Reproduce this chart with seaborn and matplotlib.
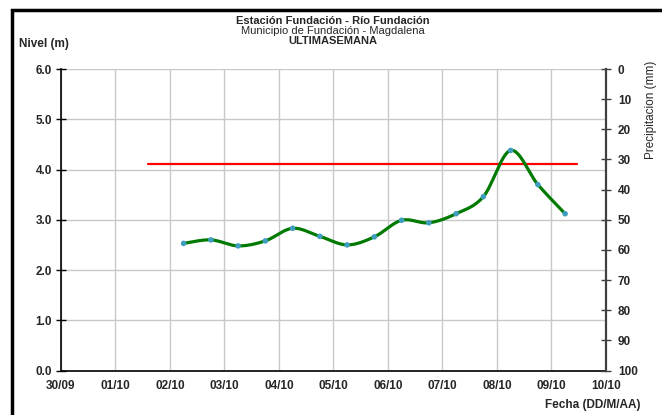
import pandas as pd
import numpy as np
import matplotlib
matplotlib.use("Agg")
import matplotlib.pyplot as plt
import matplotlib.dates as mdates
from matplotlib.patches import Rectangle
import seaborn as sns

# datos
times = ['2023-10-02 06:00', '2023-10-02 18:00', '2023-10-03 06:00', '2023-10-03 18:00',
         '2023-10-04 06:00', '2023-10-04 18:00', '2023-10-05 06:00', '2023-10-05 18:00',
         '2023-10-06 06:00', '2023-10-06 18:00', '2023-10-07 06:00', '2023-10-07 18:00',
         '2023-10-08 06:00', '2023-10-08 18:00', '2023-10-09 06:00']
nivel = [2.53, 2.60, 2.48, 2.58, 2.83, 2.67, 2.50, 2.66, 2.99, 2.94, 3.12, 3.46, 4.38, 3.70, 3.12]

alert_times = ['2023-10-01 14:24', '2023-10-09 11:15']
alert_level = [4.1, 4.1]

tick_dates = ['2023-09-30', '2023-10-01', '2023-10-02', '2023-10-03', '2023-10-04', '2023-10-05',
              '2023-10-06', '2023-10-07', '2023-10-08', '2023-10-09', '2023-10-10']
nivel_ticks = [0.0, 1.0, 2.0, 3.0, 4.0, 5.0, 6.0]
precip_ticks = [0, 10, 20, 30, 40, 50, 60, 70, 80, 90, 100]

df = pd.DataFrame({'fecha': pd.to_datetime(times), 'nivel': nivel})
alert = pd.DataFrame({'fecha': pd.to_datetime(alert_times), 'nivel': alert_level})


def smooth_line(x, y, n=30):
    # curva suavizada tipo Excel (Catmull-Rom)
    x = np.asarray(x, float)
    y = np.asarray(y, float)
    px = np.concatenate([[x[0]], x, [x[-1]]])
    py = np.concatenate([[y[0]], y, [y[-1]]])
    xs, ys = [], []
    t = np.linspace(0, 1, n)
    for i in range(1, len(px) - 2):
        p0x, p1x, p2x, p3x = px[i - 1], px[i], px[i + 1], px[i + 2]
        p0y, p1y, p2y, p3y = py[i - 1], py[i], py[i + 1], py[i + 2]
        c1x, c1y = p1x + (p2x - p0x) / 6, p1y + (p2y - p0y) / 6
        c2x, c2y = p2x - (p3x - p1x) / 6, p2y - (p3y - p1y) / 6
        bx = (1 - t) ** 3 * p1x + 3 * (1 - t) ** 2 * t * c1x + 3 * (1 - t) * t ** 2 * c2x + t ** 3 * p2x
        by = (1 - t) ** 3 * p1y + 3 * (1 - t) ** 2 * t * c1y + 3 * (1 - t) * t ** 2 * c2y + t ** 3 * p2y
        xs.extend(bx)
        ys.extend(by)
    return np.array(xs), np.array(ys)


sns.set_style("whitegrid")
plt.rcParams['font.family'] = ['Liberation Sans', 'DejaVu Sans']

fig = plt.figure(figsize=(6.62, 4.15), dpi=100)
ax = fig.add_axes([0.0921, 0.1072, 0.8233, 0.7265])

sx, sy = smooth_line(mdates.date2num(df['fecha']), df['nivel'])
smooth = pd.DataFrame({'fecha': mdates.num2date(sx), 'nivel': sy})

sns.lineplot(data=alert, x='fecha', y='nivel', color='#ff0000', linewidth=1.6, ax=ax)
sns.lineplot(data=smooth, x='fecha', y='nivel', color='#007a00', linewidth=2.3, sort=False, ax=ax)
sns.scatterplot(data=df, x='fecha', y='nivel', color='#3f9ec0', s=16, edgecolor='none', zorder=5, ax=ax)

ax.set_xlim(pd.to_datetime(tick_dates[0]), pd.to_datetime(tick_dates[-1]))
ax.set_ylim(0, 6)
ax.set_xticks(pd.to_datetime(tick_dates))
ax.xaxis.set_major_formatter(mdates.DateFormatter('%d/%m'))
ax.set_yticks(nivel_ticks)
ax.set_yticklabels([f'{v:.1f}' for v in nivel_ticks])
ax.grid(True, color='#c8c8c8', linewidth=1.0)
ax.set_xlabel('')
ax.set_ylabel('')
ax.tick_params(axis='both', labelsize=8.5, direction='inout', length=7, width=1,
               color='#000000', pad=3)
for lab in ax.get_xticklabels() + ax.get_yticklabels():
    lab.set_fontweight('bold')
ax.spines['left'].set_color('#000000')
ax.spines['left'].set_linewidth(1.2)
ax.spines['bottom'].set_color('#000000')
ax.spines['bottom'].set_linewidth(1.2)
ax.spines['top'].set_visible(False)
ax.spines['right'].set_visible(False)

ax2 = ax.twinx()
ax2.set_ylim(100, 0)
ax2.set_yticks(precip_ticks)
ax2.grid(False)
ax2.tick_params(axis='y', labelsize=8.5, direction='inout', length=7, width=1, color='#404040', pad=5)
for lab in ax2.get_yticklabels():
    lab.set_fontweight('bold')
for s in ['left', 'top', 'bottom']:
    ax2.spines[s].set_visible(False)
ax2.spines['right'].set_color('#404040')
ax2.spines['right'].set_linewidth(1.6)

fig.text(0.503, 0.950, 'Estación Fundación - Río Fundación', ha='center', va='center',
         fontsize=8, fontweight='bold')
fig.text(0.503, 0.925, 'Municipio de Fundación - Magdalena', ha='center', va='center', fontsize=8)
fig.text(0.503, 0.901, 'ULTIMASEMANA', ha='center', va='center', fontsize=8, fontweight='bold')
fig.text(0.028, 0.893, 'Nivel (m)', ha='left', va='center', fontsize=8.5, fontweight='bold')
fig.text(0.984, 0.735, 'Precipitacion (mm)', ha='center', va='center', rotation=90, fontsize=8.5)
fig.text(0.967, 0.025, 'Fecha (DD/M/AA)', ha='right', va='center', fontsize=8.5, fontweight='bold')

# marco negro exterior
fig.patches.append(Rectangle((0.0175, -0.2), 1.2, 1.177, transform=fig.transFigure,
                             fill=False, edgecolor='black', linewidth=2.5))

fig.savefig('out.png', dpi=100)
